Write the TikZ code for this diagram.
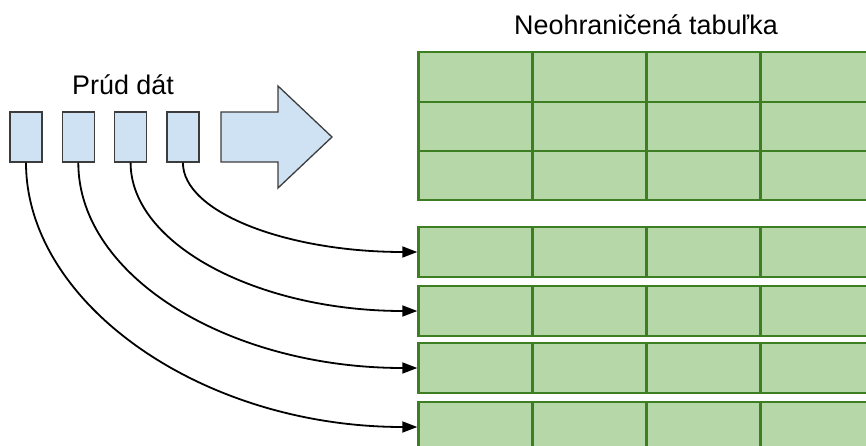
\documentclass[tikz,border=0pt]{standalone}
\usepackage{fontspec}
\setmainfont{Liberation Sans}
\usepackage{tikz}
\usetikzlibrary{arrows.meta,positioning}
\definecolor{blockblue}{HTML}{CFE2F3}
\definecolor{boxline}{HTML}{3C3C3C}
\definecolor{tablegreen}{HTML}{B6D7A8}
\definecolor{tableline}{HTML}{3E7E22}

\begin{document}
\begin{tikzpicture}[x=1pt,y=-1pt,->,>={Triangle[length=15pt,width=11pt]},
                    line width=1.8pt,node distance=52.3pt]
\tikzstyle{packet}=[draw=boxline,fill=blockblue,line width=1.3pt,inner sep=0pt,
                    minimum width=32pt,minimum height=50pt]
\tikzstyle{cell}=[draw=tableline,fill=tablegreen,line width=2.4pt,inner sep=0pt,
                  minimum width=114pt,minimum height=49.5pt]
\tikzstyle{titletext}=[font=\fontsize{26.9}{32}\selectfont]
\clip (0,0) rectangle (866,446);

\node[titletext] (stream) at (123,85) {Prúd dát};
\node[titletext] (table) at (646,25) {Neohraničená tabuľka};

\node[packet] (1) at (26,137) {};
\node[packet] (2) [right of=1] {};
\node[packet] (3) [right of=2] {};
\node[packet] (4) [right of=3] {};
\draw[-,draw=boxline,fill=blockblue,line width=1.3pt]
  (221,112) -- (278,112) -- (278,86) -- (332,137) -- (278,188) -- (278,162) -- (221,162) -- cycle;

% the table so far
\foreach \y [count=\r] in {77,126.5,175.5}
  \foreach \x [count=\c] in {475.5,589.5,703.5,817.5}
    \node[cell] (t\r-\c) at (\x,\y) {};
% new rows
\foreach \y [count=\r] in {252,311,368,427}
  \foreach \x [count=\c] in {475.5,589.5,703.5,817.5}
    \node[cell] (row\r-\c) at (\x,\y) {};

\path (4) edge [out=-90,in=180,out distance=50pt,in distance=130pt] (row1-1)
      (3) edge [out=-90,in=180,out distance=82pt,in distance=159pt] (row2-1)
      (2) edge [out=-90,in=180,out distance=114pt,in distance=188pt] (row3-1)
      (1) edge [out=-90,in=180,out distance=140pt,in distance=217pt] (row4-1);

\end{tikzpicture}
\end{document}
